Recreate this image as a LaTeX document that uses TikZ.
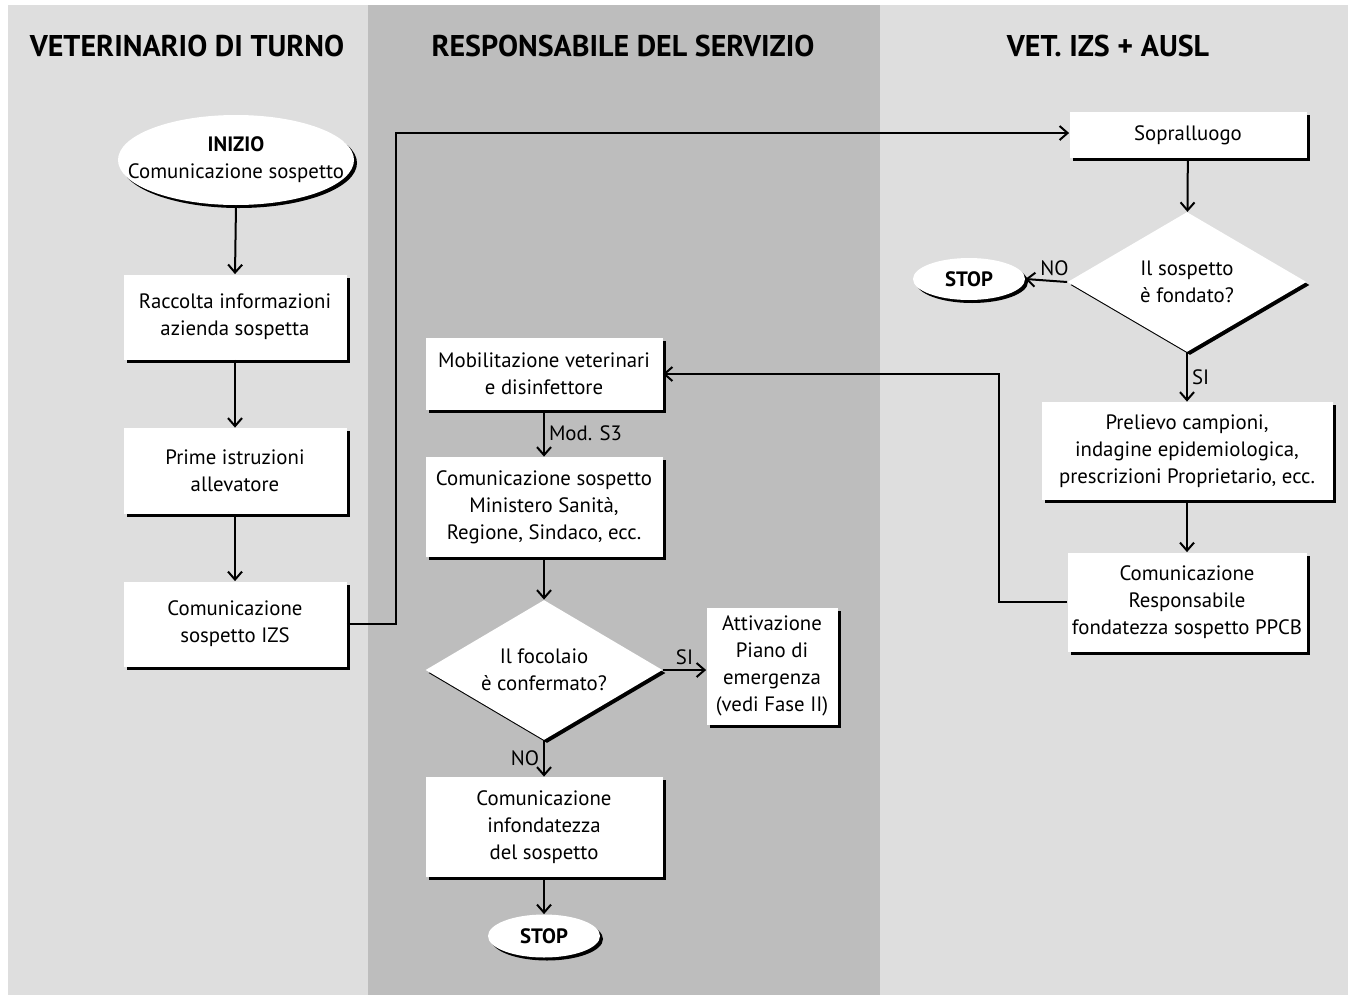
\documentclass[tikz,border=0pt]{standalone}
\usepackage{fontspec}
\setmainfont{PT Sans}
\usetikzlibrary{shapes.geometric,arrows.meta,shadows}
\definecolor{lanelight}{HTML}{DEDEDE}
\definecolor{lanedark}{HTML}{BDBDBD}
\begin{document}
\begin{tikzpicture}[x=0.5pt,y=-0.5pt,
  base/.style={fill=white, draw=none, align=center, inner sep=0pt,
    font=\fontsize{10.4}{13.5}\selectfont,
    drop shadow={fill=black, opacity=1, shadow xshift=1.5pt, shadow yshift=-1.5pt}},
  box/.style={base, rectangle, minimum width=#1},
  term/.style={base, ellipse},
  decision/.style={base, diamond, shape aspect=1.7},
  header/.style={font=\fontsize{15}{18}\selectfont\bfseries, inner sep=0pt},
  lbl/.style={font=\fontsize{10.4}{13.5}\selectfont, inner sep=2pt},
  conn/.style={line width=1pt, -{Straight Barb[length=4pt,width=7pt,line width=1pt]}}
]
\useasboundingbox (0,0) rectangle (1356,996);
\fill[white] (0,0) rectangle (1356,996);
% lanes
\fill[lanelight] (8,5) rectangle (368,995);
\fill[lanedark] (368,5) rectangle (880,995);
\fill[lanelight] (880,5) rectangle (1348,995);
% headers
\node[header] (h1) at (187,46) {VETERINARIO DI TURNO};
\node[header] (h2) at (623,46) {RESPONSABILE DEL SERVIZIO};
\node[header] (h3) at (1108,46) {VET. IZS + AUSL};
% left lane
\node[term, inner xsep=-14pt, minimum width=118pt, minimum height=45pt] (start) at (236,160)
  {\textbf{INIZIO}\\Comunicazione sospetto};
\node[box=111.5pt, minimum height=42.5pt] (racc) at (235,317)
  {Raccolta informazioni\\azienda sospetta};
\node[box=111.5pt, minimum height=43pt] (prime) at (235,471)
  {Prime istruzioni\\allevatore};
\node[box=111.5pt, minimum height=42.5pt] (izs) at (235,624)
  {Comunicazione\\sospetto IZS};
% middle lane
\node[box=118.5pt, minimum height=36pt] (mob) at (544,374)
  {Mobilitazione veterinari\\e disinfettore};
\node[box=118.5pt, minimum height=50pt] (min) at (544,507)
  {Comunicazione sospetto\\Ministero Sanità,\\Regione, Sindaco, ecc.};
\node[decision, minimum width=118.5pt, minimum height=70pt] (foc) at (544,670)
  {Il focolaio\\è confermato?};
\node[box=65.5pt, minimum height=58.5pt] (att) at (772,666)
  {Attivazione\\Piano di\\emergenza\\(vedi Fase II)};
\node[box=118.5pt, minimum height=50pt] (inf) at (544,827)
  {Comunicazione\\infondatezza\\del sospetto};
\node[term, minimum width=56pt, minimum height=21.5pt] (stop1) at (544,936)
  {\textbf{STOP}};
% right lane
\node[box=118.5pt, minimum height=23pt] (sop) at (1188,135) {Sopralluogo};
\node[decision, minimum width=119.5pt, minimum height=70pt] (sosp) at (1187,282)
  {Il sospetto\\è fondato?};
\node[term, minimum width=56pt, minimum height=21pt] (stop2) at (969,279)
  {\textbf{STOP}};
\node[box=145.5pt, minimum height=49pt] (prel) at (1187,451)
  {Prelievo campioni,\\indagine epidemiologica,\\prescrizioni Proprietario, ecc.};
\node[box=119.5pt, minimum height=49.5pt] (resp) at (1187,602)
  {Comunicazione\\Responsabile\\fondatezza sospetto PPCB};
% connectors
\draw[conn] (start.south) -- (racc.north);
\draw[conn] (racc) -- (prime);
\draw[conn] (prime) -- (izs);
\draw[conn] (izs.east) -- ++(49,0) |- ([yshift=1pt]sop.west);
\draw[conn] (sop) -- (sosp);
\draw[conn] (sosp.west) -- node[lbl, above, pos=0.3] {NO} (stop2.east);
\draw[conn] (sosp.south) -- node[lbl, right] {SI} (prel.north);
\draw[conn] (prel) -- (resp);
\draw[conn] (resp.west) -- ++(-68,0) |- (mob.east);
\draw[conn] (mob) -- node[lbl, right] {Mod. S3} (min);
\draw[conn] (min) -- (foc);
\draw[conn] (foc.east) -- node[lbl, above] {SI} (att.west |- foc.east);
\draw[conn] (foc.south) -- node[lbl, left] {NO} (inf.north);
\draw[conn] (inf) -- (stop1);
\end{tikzpicture}
\end{document}
